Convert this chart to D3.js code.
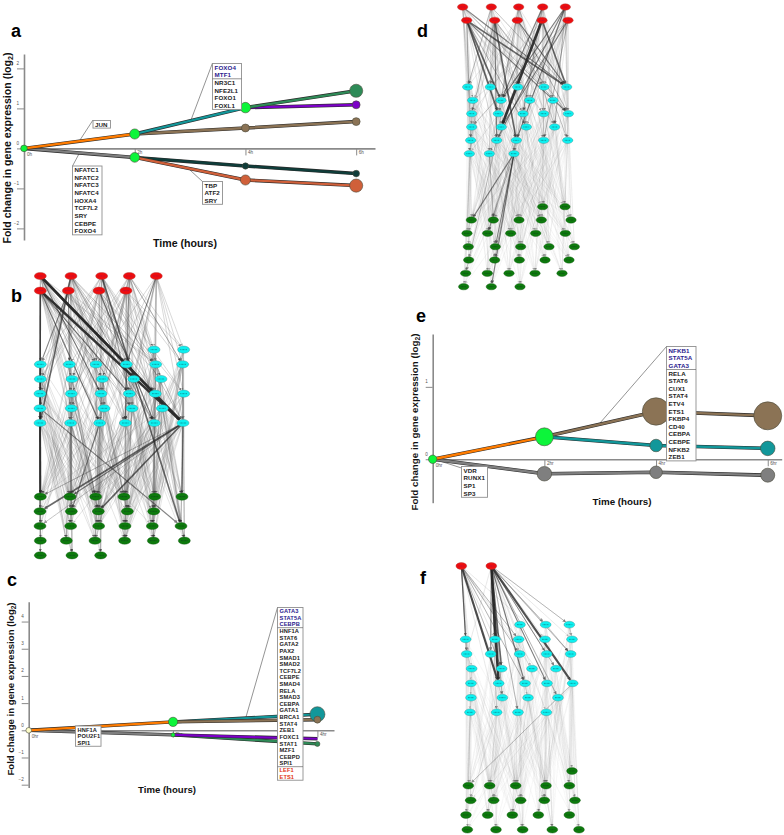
<!DOCTYPE html>
<html><head><meta charset="utf-8">
<script src="https://cdn.jsdelivr.net/npm/d3@7/dist/d3.min.js"></script>
<style>
html,body{margin:0;padding:0;background:#fff}
svg{display:block}
text{font-family:"Liberation Sans",Arial,sans-serif}
</style></head><body>
<div id="chart"></div>
<script>
// ---------- line-chart data (hours, log2 fold change, node size = relative gene count) ----------
const aHours=[0,2,4,6], aTicks=[-2,-1,0,1,2];
const aSeries=[
 ["gray",[0,2],[0,-0.225]],["ink",[2,4,6],[-0.225,-0.44,-0.63]],["rust",[2,4,6],[-0.225,-0.79,-0.93]],
 ["orange",[0,2],[0,0.36]],["tan",[2,4,6],[0.36,0.51,0.67]],["teal",[2,4],[0.36,1.02]],
 ["purple",[4,6],[1.02,1.09]],["sea",[4,6],[1.02,1.44]]];
const aNodes=[[0,0,5.6,"lime"],[2,0.36,13,"lime"],[2,-0.225,12,"lime"],[4,1.02,14,"lime"],[4,0.51,8,"tan"],
 [4,-0.44,5,"ink"],[4,-0.79,13,"rust"],[6,1.44,22,"sea"],[6,1.09,8,"purple"],[6,0.67,8,"tan"],[6,-0.63,5.6,"ink"],[6,-0.93,22,"rust"]];
const aJun=["JUN"];
const aFoxoBlue=["FOXO4","MTF1"], aFoxo=["NR3C1","NFE2L1","FOXO1","FOXL1"];
const aNfat=["NFATC1","NFATC2","NFATC3","NFATC4","HOXA4","TCF7L2","SRY","CEBPE","FOXO4"];
const aTbp=["TBP","ATF2","SRY"];

const cHours=[0,2,4], cTicks=[-2,-1,0,1,2,3,4];
const cSeries=[
 ["gray",[0,2],[0,-0.17]],["sea",[2,4],[-0.17,-0.5]],["purple",[2,4],[-0.17,-0.31]],
 ["orange",[0,2],[0,0.31]],["teal",[2,4],[0.31,0.59]],["tan",[2,4],[0.31,0.39]]];
const cNodes=[[0,0,4,"cream"],[2,0.31,11,"lime"],[2,-0.17,2.2,"lime"],[4,0.59,29,"teal"],[4,0.39,6,"tan"],[4,-0.5,3.2,"sea"]];
const cBlue=["GATA3","STAT5A","CEBPB"];
const cMid=["HNF1A","STAT6","GATA2","PAX2","SMAD1","SMAD2","TCF7L2","CEBPE","SMAD4","RELA","SMAD3","CEBPA","GATA1","BRCA1","STAT4","ZEB1","FOXC1","STAT1","MZF1","CEBPD","SPI1"];
const cRed=["LEF1","ETS1"], cLow=["HNF1A","POU2F1","SPI1"];

const eHours=[0,2,4,6], eTicks=[0,1];
const eSeries=[
 ["gray",[0,2,4,6],[0,-0.2,-0.18,-0.22]],["orange",[0,2],[0,0.31]],
 ["tan",[2,4,6],[0.31,0.66,0.6]],["teal",[2,4,6],[0.31,0.19,0.15]]];
const eNodes=[[0,0,9,"lime"],[2,0.31,41,"lime"],[2,-0.2,27,"grayN"],[4,0.66,96,"tan"],[4,0.19,20,"teal"],[4,-0.18,20,"grayN"],
 [6,0.6,100,"tan"],[6,0.15,27,"teal"],[6,-0.22,25,"grayN"]];
const eBlue=["NFKB1","STAT5A","GATA3"];
const eMid=["RELA","STAT6","CUX1","STAT4","ETV4","ETS1","FKBP4","CD40","CEBPA","CEBPE","NFKB2","ZEB1"];
const eLow=["VDR","RUNX1","SP1","SP3"];

// ---------- network data: rows of [rank, layout positions]; edges by node number ----------
const bRows=[[48,[121,213,305,388,469],"tf"],[92,[121,205,297,378],"tf"],
 [269,[462,551],"c"],[313,[121,208,288,379,467,548],"c"],[357,[121,216,307,401,483],"c"],[401,[120,214,303,388,466,551],"c"],[445,[120,214,312,396,487],"c"],[489,[120,212,299,376,463,549],"c"],
 [710,[121,210,287,372,464,546],"g"],[754,[120,214,295,382,461],"g"],[798,[120,212,296,375,457,543],"g"],[842,[121,199,285,374,460,553],"g"],[886,[121,216,302],"g"]];
const bFaint=[
 "11 18 23 29 34 13 24 30 19 35 14 25 36 20 26 31 15","17 12 23 28 34 13 19 24 35 14 20 25 31 36 37 21 22","11 17 22 18 29 13 24 30 35 14 25 20 36 31 26 15 27",
 "12 18 23 19 30 24 35 14 20 25 36 15 21 32 37 16 9 10","9 10 16 27 38 15 26 37 20 25 31 36 13 24","11 17 28 33 18 23 29 34 13 24 30 19 35 14 25",
 "22 28 12 23 34 13 19 30 35 20 25 36 31 15 26","17 18 29 34 13 24 30 14 25 20 36 15 26 32 37 27","23 29 19 24 35 14 20 25 31 36 21 26 37 16 9 10",
 "43 49 54 60 44 55 61 42 53 48 59 41","44 55 61 43 49 60 54 42 48 59","39 45 50 56 62 40 46 51 41 52 42 63","39 45 40 46 51 57 63 41 47 52 43 53","40 46 41 47 52 58 64 42 48 39 50 59",
 "41 47 42 48 53 59 43 49 54 40 46 60","42 48 43 49 54 60 44 55 61 41 52 58","44 55 61 43 49 60 42 53 59 54 47 52","39 45 56 40 51 46 62 41 47 57 52 58","40 46 51 57 39 50 63 41 52 47 42 64",
 "41 47 52 58 40 46 64 42 53 48 39 59","42 48 53 59 41 52 47 43 54 49 44 60","43 49 54 60 42 48 53 44 55 61 41 59","39 50 62 45 40 46 57 41 52 63 42 48","40 51 46 63 39 56 41 47 58 42 53 49",
 "41 52 58 47 64 40 51 42 48 59 39 54","42 53 59 48 41 47 43 49 60 40 52 55","43 54 60 49 42 48 44 55 61 41 53 46","44 55 61 43 54 60 42 59 49 52 47 39","39 56 45 50 62 40 51 57 41 58 47 54",
 "40 57 46 51 63 39 52 41 59 47 42 49","41 58 47 64 40 52 42 48 53 39 60 45","42 59 48 53 41 58 43 54 49 40 61 46","43 60 49 54 42 59 44 61 55 41 47 51","39 45 50 56 62 40 46 51 57 41 47 52 63",
 "40 46 51 57 63 39 45 50 41 47 52 58 64","41 47 52 58 64 40 46 51 42 48 53 59 39","42 48 53 59 41 47 52 43 49 54 60 40 58","43 49 54 60 42 48 53 44 55 61 41 59 47","44 55 61 43 49 54 42 48 53 41 47 40 39"];
const bStrong=[[0,38,5],[5,38,5],[0,14,4],[5,33,3],[33,39,4],[1,33,3],[6,11,2],[2,55,3],[4,14,2],[14,36,1],[5,35,2],[6,12,1],[3,36,1],
 [38,39,1],[38,40,2],[38,45,3],[38,47,3],[38,50,1],[38,44,2],[16,38,1],[28,55,2],[35,46,2],[34,47,1],[23,41,1],[0,24,2],[2,25,1],[3,16,1],[11,39,2],[7,37,2],[15,38,1],
 [0,26,2],[1,26,1],[5,25,2],[5,31,1],[6,37,1],[2,38,1],[1,37,1],[0,33,1],[5,22,1],[1,15,1]];

const dRows=[[21,[188,274,356,428,496],"tf"],[61,[200,284,352,426,504],"tf"],
 [261,[203,271,353,432,500],"c"],[301,[218,303,389,459],"c"],[341,[215,295,369,431,505],"c"],[381,[215,304,379,464],"c"],[421,[212,290,349,431,503],"c"],[461,[208,268,342],"c"],
 [620,[428,495],"g"],[660,[214,280,357,424,513],"g"],[700,[201,263,332,407,496],"g"],[740,[205,286,362,447,523],"g"],[780,[206,284,358,435,507],"g"],[820,[197,262,327,405,486],"g"],[860,[191,274,360],"g"]];
const dFaint=[
 "10 15 19 24 28 33 11 16 25 29 17 21 30 13 22","10 19 24 33 11 16 20 25 29 34 12 17 26 30 13","11 20 25 34 12 17 21 26 30 35 13 18 22 14 31","12 21 30 35 13 18 22 27 31 14 23 32 17 25 20","13 22 31 14 23 32 27 18 12 26 21 30 35 34 16",
 "15 24 28 33 11 20 29 34 12 21 17 30 26 13 22","10 19 28 33 16 25 34 12 17 21 35 13 27 18 31","11 20 29 26 30 35 13 22 31 14 23 15 24 10","12 17 21 35 18 27 31 23 32 16 20 34 11 19","13 22 27 31 23 32 17 26 30 16 29 34 15 33",
 "38 48 58 39 49 59 40 50 60 41 51 42 52","39 49 59 38 48 40 50 60 41 51 61 62 47","40 50 60 39 49 41 51 61 38 58 42 52 37","41 51 61 36 40 50 42 52 62 39 49 38 37","42 52 62 37 41 51 61 36 40 50 60 39 49",
 "43 53 63 44 54 64 45 55 46 56 47 36 57","44 54 64 43 53 45 55 65 46 56 37 57 47","45 55 65 44 54 46 56 43 53 47 57 36 64","46 56 36 45 55 47 57 37 44 54 43 65 63",
 "38 48 58 39 49 64 40 50 41 61 42 52 45","39 49 59 38 58 40 50 65 41 51 42 62 37","40 50 60 39 59 41 51 38 48 42 52 63 36","41 51 61 40 60 42 52 37 39 49 38 58 64","42 52 62 37 41 61 36 40 50 39 59 43 65",
 "43 53 63 44 54 45 65 46 36 47 57 49 40","44 54 64 43 63 45 55 46 56 47 37 38 51","45 55 65 44 64 46 56 43 63 47 57 39 52","46 56 36 45 65 47 57 37 44 64 38 50 59",
 "38 53 58 39 54 59 40 55 60 41 56 42 57","39 54 59 38 53 40 55 60 41 56 61 37 62","40 55 60 39 54 41 56 61 38 53 42 57 62","41 56 61 40 55 42 57 62 39 54 36 38 60","42 57 62 41 56 37 36 40 55 39 54 61 63",
 "38 43 48 53 58 63 39 44 49 54 40 45 50","38 43 39 44 49 54 59 64 40 45 50 55 41","38 43 48 39 44 49 54 59 64 40 45 50 55 65 41 46 36"];
const dStrong=[[5,20,3],[5,16,3],[5,14,3],[5,23,2],[0,14,2],[6,30,3],[6,29,2],[6,19,1],[8,25,5],[8,14,3],[7,14,2],[9,25,2],[4,30,2],[4,29,2],[3,25,1],[6,11,1],[2,27,1],[1,10,1],[7,23,1],
 [35,38,2],[35,49,2],[35,64,2],[35,54,1],[35,44,1],[29,58,1],[34,39,1],[30,44,1],[5,28,1],[4,27,1],[9,31,1],[3,21,1],[18,32,1],[1,14,1],[0,23,1],[3,16,2],[4,16,2],[5,26,1],[6,23,1],[9,24,1],[2,16,1]];

const fRows=[[33,[64,154],"tf"],
 [209,[240,317,388],"c"],[253,[77,165,236,315,396],"c"],[297,[80,152,239,320,392],"c"],[341,[95,185,276,348],"c"],[385,[93,176,255,321,398],"c"],[428,[93,187,264,354],"c"],[472,[90,170,234,319],"c"],
 [648,[396],"g"],[692,[85,149,227,318,388],"g"],[736,[92,161,242,313,405],"g"],[780,[78,143,217,295,388],"g"],[824,[82,168,248,337,417],"g"]];
const fFaint=["5 6 7 10 11 12 15 16 17 19 20 21 24 25 28 29 8 22","3 4 8 9 12 13 14 16 17 18 21 22 25 26 27 30 31 10",
 "35 40 45 50 34 44 36 46 41 51","36 41 46 51 35 45 37 47 42 32","37 42 47 52 36 46 32 41 51 35","33 38 43 48 34 39 49 35 45 36","34 39 44 49 33 43 35 40 50 36","35 40 45 50 34 44 36 41 51 38","36 41 46 51 35 45 37 42 52 39","37 42 47 52 32 36 41 46 35 40",
 "33 38 43 48 39 44 34 35 40 50","34 39 44 49 33 38 35 45 36 41","35 40 45 50 34 39 36 46 33 51","36 41 46 51 35 40 37 47 34 44","37 42 47 52 36 41 32 46 35 45",
 "33 43 48 38 34 44 39 35 50 41","34 44 49 39 33 48 35 40 45 36","35 45 50 40 34 49 36 41 46 37","36 46 51 41 35 50 37 42 47 32",
 "33 38 48 43 34 39 49 35 40 45","34 39 49 44 38 33 35 40 50 41","35 40 50 45 34 39 36 41 51 48","36 41 51 46 35 40 37 42 52 49","37 42 52 47 36 41 32 33 34 35 38 43 48 39",
 "33 38 43 48 39 44 34 40 45 50","34 39 44 49 38 43 35 40 50 46","35 40 45 50 39 44 36 41 51 48","36 41 46 51 40 45 37 42 52 32",
 "33 38 43 48 34 39 44 35 45 49","34 39 44 49 33 43 35 40 50 36","35 40 45 50 34 44 36 41 51 52","36 41 46 51 35 45 37 42 52 47"];
const fStrong=[[0,20,4],[0,5,2],[0,16,1],[0,10,1],[0,21,1],[1,6,3],[1,20,5],[1,16,3],[1,11,2],[1,23,4],[1,21,2],[1,14,1],[1,22,2],[1,13,1],[1,3,1],[1,4,1],[1,25,1],[1,27,1],[1,30,1],[1,18,1],[1,29,1],[0,12,1],[0,7,1],[3,14,1],[4,9,1],[23,33,1]];

// ---------- styles ----------
const hue={orange:"#ff7c00",tan:"#8b7355",teal:"#12979a",purple:"#7d00c9",sea:"#2e8b57",gray:"#7f7f7f",ink:"#0f3d3a",rust:"#d0603a",lime:"#0cf53a",cream:"#fdfcc8",grayN:"#7f7f7f"};
const W=784,H=835;
const svg=d3.select("#chart").append("svg").attr("width",W).attr("height",H).attr("viewBox",[0,0,W,H]);
const defs=svg.append("defs");
const soft=defs.append("filter").attr("id","soft").attr("x",-0.01).attr("y",-0.01).attr("width",1.02).attr("height",1.02);
soft.append("feGaussianBlur").attr("stdDeviation",0.35);
[["tip",3.4,"#222"],["tipS",2.4,"#333"]].forEach(m=>defs.append("marker").attr("id",m[0]).attr("viewBox","0 0 6 6").attr("refX",5).attr("refY",3).attr("markerUnits","userSpaceOnUse").attr("markerWidth",m[1]).attr("markerHeight",m[1]).attr("orient","auto")
 .append("path").attr("d","M0,0L6,3L0,6Z").attr("fill",m[2]));
const R=d3.scaleSqrt().domain([0,100]).range([0,14]);

function letter(t,x,y){svg.append("text").attr("x",x).attr("y",y).attr("font-size",18).attr("font-weight",700).attr("fill","#000").text(t);}
letter("a",11,37);letter("b",11,302);letter("c",7,586);letter("d",417,37);letter("e",416,322);letter("f",420,584);

function linePanel(o){
 const x=d3.scaleLinear().domain(o.xd).range(o.xr), y=d3.scaleLinear().domain(o.yd).range(o.yr);
 const g=svg.append("g");
 const xa=d3.axisBottom(x).tickValues(o.hours.slice(1)).tickSize(7).tickSizeOuter(0).tickFormat(d=>d+o.unit);
 const xg=g.append("g").attr("transform",`translate(0,${y(0)})`).call(xa);
 xg.select(".domain").attr("stroke","#8a8a8a").attr("stroke-width",1.6);
 xg.selectAll(".tick line").attr("stroke","#8a8a8a").attr("stroke-width",1);
 xg.selectAll(".tick text").attr("text-anchor","start").attr("x",2).attr("y",2).attr("font-size",4.6).attr("fill","#555").attr("font-family","Liberation Sans");
 g.append("text").attr("x",x(0)+3).attr("y",y(0)+7.5).attr("font-size",4.6).attr("fill","#555").text("0"+o.unit);
 const ya=d3.axisLeft(y).tickValues(o.ticks).tickSize(7).tickSizeOuter(0).tickFormat(d3.format("d"));
 const yg=g.append("g").attr("transform",`translate(${x(0)},0)`).call(ya);
 yg.select(".domain").attr("stroke","#8a8a8a").attr("stroke-width",1.6);
 yg.selectAll(".tick line").attr("stroke","#8a8a8a").attr("stroke-width",1);
 yg.selectAll(".tick text").attr("x",-5).attr("y",-4).attr("dy",0).attr("font-size",4.6).attr("fill","#555").attr("font-family","Liberation Sans");
 const ln=d3.line().x(d=>x(d[0])).y(d=>y(d[1]));
 o.leaders.forEach(l=>g.append("line").attr("x1",l[0]).attr("y1",l[1]).attr("x2",l[2]).attr("y2",l[3]).attr("stroke","#666").attr("stroke-width",0.7));
 o.series.forEach(s=>{
  const pts=s[1].map((h,i)=>[h,s[2][i]]);
  g.append("path").attr("d",ln(pts)).attr("fill","none").attr("stroke","#2a2a2a").attr("stroke-width",o.lw+1.2);
  g.append("path").attr("d",ln(pts)).attr("fill","none").attr("stroke",hue[s[0]]).attr("stroke-width",o.lw);
 });
 g.selectAll("circle.n").data(o.nodes).join("circle").attr("class","n").attr("cx",d=>x(d[0])).attr("cy",d=>y(d[1])).attr("r",d=>R(d[2])).attr("fill",d=>hue[d[3]]).attr("stroke","#4a4a3a").attr("stroke-width",0.6);
 o.boxes.forEach(b=>box(g,b));
 g.append("text").attr("transform",`translate(${o.yl[0]},${o.yl[1]}) rotate(-90)`).attr("text-anchor","middle").attr("font-size",o.yl[2]).attr("font-weight",700).attr("fill","#111")
  .call(t=>{t.append("tspan").text("Fold change in gene expression (log");t.append("tspan").attr("dy",2).attr("font-size",o.yl[2]*0.68).text("2");t.append("tspan").attr("dy",-2).text(")");});
 g.append("text").attr("x",o.xl[0]).attr("y",o.xl[1]).attr("text-anchor","middle").attr("font-size",o.xl[2]).attr("font-weight",700).attr("fill","#111").text("Time (hours)");
}
function box(g,b){
 const names=b.groups.flatMap(gr=>gr.names.map(n=>({n,c:gr.color})));
 const h=names.length*b.step+b.pad*2;
 g.append("rect").attr("x",b.x).attr("y",b.y).attr("width",b.w).attr("height",h).attr("fill","#fff").attr("stroke","#8f8f8f").attr("stroke-width",0.9);
 g.selectAll(null).data(names).join("text").attr("x",b.x+2).attr("y",(d,i)=>b.y+b.pad+b.step*(i+0.5)+b.fs*0.36).attr("font-size",b.fs).attr("font-weight",700).attr("fill",d=>d.c).attr("letter-spacing",0.1).text(d=>d.n);
 let k=0;
 b.groups.slice(0,-1).forEach(gr=>{k+=gr.names.length;const yy=b.y+b.pad+k*b.step;
  g.append("line").attr("x1",b.x).attr("x2",b.x+b.w).attr("y1",yy).attr("y2",yy).attr("stroke","#666").attr("stroke-width",0.7);});
}
const BK="#222",BL="#2a1a8e",RD="#e2330f";
linePanel({hours:aHours,unit:"h",ticks:aTicks,series:aSeries,nodes:aNodes,lw:2.3,xd:[0,6.34],xr:[24,375],yd:[-2.29,2.36],yr:[240,54],
 yl:[10.5,148,10.6],xl:[185,247,10.6],
 leaders:[[80,140,93,120],[191,120,212.5,63],[80,152,72.5,166],[190,170,203,182]],
 boxes:[{x:93,y:120.5,w:17.5,step:7.6,pad:0,fs:6.2,groups:[{names:aJun,color:BK}]},
  {x:212.5,y:63.5,w:29,step:7.65,pad:0,fs:6.2,groups:[{names:aFoxoBlue,color:BL},{names:aFoxo,color:BK}]},
  {x:72.5,y:166,w:29.5,step:7.65,pad:0,fs:6.2,groups:[{names:aNfat,color:BK}]},
  {x:202.5,y:181.5,w:20,step:7.6,pad:0,fs:6.2,groups:[{names:aTbp,color:BK}]}]});
linePanel({hours:cHours,unit:"hr",ticks:cTicks,series:cSeries,nodes:cNodes,lw:2.2,xd:[0,4.23],xr:[28.7,334],yd:[-2.1,4.73],yr:[787.4,601.7],
 yl:[14,689,9.6],xl:[167,793,9.6],
 leaders:[[246,717,277.5,607.5]],
 boxes:[{x:277.5,y:607.5,w:25.5,step:6.62,pad:0.3,fs:5.7,groups:[{names:cBlue,color:BL},{names:cMid,color:BK},{names:cRed,color:RD}]},
  {x:75.5,y:726,w:25.5,step:6.62,pad:0.2,fs:5.7,groups:[{names:cLow,color:BK}]}]});
linePanel({hours:eHours,unit:"hr",ticks:eTicks,series:eSeries,nodes:eNodes,lw:2.4,xd:[0,6.25],xr:[432.7,781.7],yd:[-0.6,1.73],yr:[502.7,334],
 yl:[418,422,9.8],xl:[622,505,9.8],
 leaders:[[600,423,666.5,346.5],[440,461,461.5,468]],
 boxes:[{x:666.5,y:346.5,w:29.5,step:7.6,pad:0.2,fs:6.2,groups:[{names:eBlue,color:BL},{names:eMid,color:BK}]},
  {x:461.5,y:466.5,w:26,step:7.6,pad:0.2,fs:6.2,groups:[{names:eLow,color:BK}]}]});

function network(o){
 const x=d3.scaleLinear().domain([0,600]).range([o.ox,o.ox+200]), y=d3.scaleLinear().domain([0,600]).range([o.oy,o.oy+200]);
 const nodes=o.rows.flatMap(r=>r[1].map(u=>({u,v:r[0],kind:r[2]})));
 const g=svg.append("g").attr("filter","url(#soft)");
 const width=d3.scaleLinear().domain([1,5]).range([0.6,2.6]), ink=d3.scaleLinear().domain([1,5]).range([0.45,0.95]);
 function seg(a,b){
  const x1=x(a.u),y1=y(a.v),x2=x(b.u),y2=y(b.v),dx=x2-x1,dy=y2-y1;
  const t=Math.min(1,1/Math.hypot(dx/(o.rx+0.5),dy/(o.ry+0.5)));
  return [x1,y1,x2-dx*t,y2-dy*t];
 }
 const faint=o.faint.flatMap((s,i)=>s.split(" ").map(Number).map(t=>[i,t]));
 g.append("g").selectAll("line").data(faint).join("line").each(function(d){const c=seg(nodes[d[0]],nodes[d[1]]);
   d3.select(this).attr("x1",c[0]).attr("y1",c[1]).attr("x2",c[2]).attr("y2",c[3]);})
  .attr("stroke","#666").attr("stroke-width",o.fw).attr("opacity",d=>nodes[d[0]].kind==="tf"?o.foTop:o.foLow).attr("marker-end","url(#tipS)");
 g.append("g").selectAll("line").data(o.strong).join("line").each(function(d){const c=seg(nodes[d[0]],nodes[d[1]]);
   d3.select(this).attr("x1",c[0]).attr("y1",c[1]).attr("x2",c[2]).attr("y2",c[3]);})
  .attr("stroke","#2a2a2a").attr("stroke-width",d=>width(d[2])).attr("opacity",d=>ink(d[2])).attr("marker-end","url(#tip)");
 const fill={tf:"#ee1111",c:"#11f0f0",g:"#0a7a0a"}, edge={tf:"#a33",c:"#3a8a8a",g:"#1c5c1c"};
 g.append("g").selectAll("ellipse").data(nodes).join("ellipse").attr("cx",d=>x(d.u)).attr("cy",d=>y(d.v)).attr("rx",o.rx).attr("ry",o.ry)
  .attr("fill",d=>fill[d.kind]).attr("stroke",d=>edge[d.kind]).attr("stroke-width",0.4);
 g.append("g").selectAll("line").data(nodes).join("line").attr("x1",d=>x(d.u)-o.rx*0.55).attr("x2",d=>x(d.u)+o.rx*0.55).attr("y1",d=>y(d.v)).attr("y2",d=>y(d.v))
  .attr("stroke",d=>d.kind==="tf"?"#70106a":"#123").attr("stroke-width",0.9).attr("stroke-dasharray","0.8 0.6").attr("opacity",0.55);
}
network({rows:bRows,faint:bFaint,strong:bStrong,ox:0,oy:260,rx:6,ry:3.6,fw:0.5,foTop:0.5,foLow:0.34});
network({rows:dRows,faint:dFaint,strong:dStrong,ox:400,oy:0,rx:5.2,ry:3.2,fw:0.45,foTop:0.32,foLow:0.14});
network({rows:fRows,faint:fFaint,strong:fStrong,ox:440,oy:555,rx:5.4,ry:3.4,fw:0.45,foTop:0.32,foLow:0.11});
</script></body></html>
